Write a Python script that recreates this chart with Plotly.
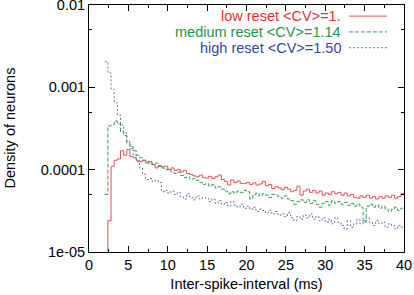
import numpy as np
import plotly.graph_objects as go

bin_start = 2.0
bin_width = 0.4

low_reset = [1e-7, 2.4e-5, 1.1e-4, 1.3e-4, 1.35e-4, 1.7e-4, 1.5e-4, 1.75e-4, 1.45e-4, 1.4e-4,
             1.3e-4, 1.25e-4, 1.3e-4, 1.2e-4, 1.25e-4, 1.15e-4, 1.05e-4, 1.12e-4, 1.08e-4, 1.1e-4,
             1.0e-4, 1.05e-4, 9.8e-5, 1.0e-4, 9.4e-5, 9.8e-5, 9.0e-5, 8.7e-5, 8.4e-5, 8.2e-5,
             8.6e-5, 8.0e-5, 7.9e-5, 8.3e-5, 7.8e-5, 8.2e-5, 8.6e-5, 7.6e-5, 7.2e-5, 6.5e-5,
             7.5e-5, 7.0e-5, 7.3e-5, 6.8e-5, 6.8e-5, 7.0e-5, 6.6e-5, 6.9e-5, 6.5e-5, 6.7e-5,
             7.2e-5, 6.4e-5, 6.6e-5, 5.9e-5, 6.2e-5, 6.0e-5, 5.7e-5, 6.1e-5, 5.8e-5, 5.4e-5,
             5.6e-5, 6.3e-5, 4.9e-5, 5.5e-5, 5.8e-5, 5.3e-5, 5.6e-5, 5.2e-5, 5.5e-5, 4.9e-5,
             5.2e-5, 5.0e-5, 5.4e-5, 5.1e-5, 5.3e-5, 4.9e-5, 5.2e-5, 4.8e-5, 5.0e-5, 4.6e-5,
             4.5e-5, 4.8e-5, 4.6e-5, 4.9e-5, 4.5e-5, 4.7e-5, 4.4e-5, 4.7e-5, 4.5e-5, 4.8e-5,
             4.6e-5, 4.9e-5, 4.5e-5, 4.7e-5, 5.1e-5]

medium_reset = [5e-5, 3.4e-4, 3.5e-4, 3.9e-4, 3.6e-4, 2.9e-4, 2.6e-4, 2.1e-4, 1.9e-4, 1.7e-4,
                1.5e-4, 1.4e-4, 1.3e-4, 1.25e-4, 1.2e-4, 1.15e-4, 1.2e-4, 1.1e-4, 1.05e-4, 1.0e-4,
                1.02e-4, 9.4e-5, 9.0e-5, 9.3e-5, 8.5e-5, 8.0e-5, 8.2e-5, 7.6e-5, 7.8e-5, 7.4e-5,
                7.0e-5, 6.6e-5, 6.8e-5, 6.3e-5, 6.6e-5, 6.0e-5, 6.2e-5, 5.8e-5, 5.5e-5, 5.1e-5,
                5.4e-5, 5.2e-5, 5.5e-5, 5.3e-5, 5.6e-5, 5.4e-5, 4.4e-5, 5.0e-5, 5.2e-5, 4.8e-5,
                5.1e-5, 4.9e-5, 4.6e-5, 5.0e-5, 4.9e-5, 4.7e-5, 4.5e-5, 4.8e-5, 4.4e-5, 4.2e-5,
                3.8e-5, 4.1e-5, 4.3e-5, 4.0e-5, 4.3e-5, 3.9e-5, 4.2e-5, 3.8e-5, 3.5e-5, 3.9e-5,
                4.1e-5, 3.7e-5, 4.2e-5, 3.9e-5, 4.1e-5, 3.8e-5, 4.0e-5, 3.7e-5, 3.9e-5, 3.6e-5,
                3.8e-5, 3.5e-5, 2.3e-5, 3.6e-5, 3.8e-5, 3.5e-5, 3.7e-5, 3.4e-5, 3.6e-5, 3.3e-5,
                3.1e-5, 3.3e-5, 3.5e-5, 3.2e-5, 3.4e-5]

high_reset = [2.05e-3, 1.5e-3, 9.5e-4, 6.5e-4, 4.6e-4, 3.5e-4, 2.8e-4, 2.2e-4, 1.8e-4, 1.5e-4,
              1.25e-4, 1.05e-4, 8.8e-5, 7.6e-5, 7.8e-5, 7.2e-5, 7.4e-5, 7.0e-5, 5.4e-5, 5.6e-5,
              5.2e-5, 5.5e-5, 5.0e-5, 5.3e-5, 4.7e-5, 4.4e-5, 5.1e-5, 4.6e-5, 4.3e-5, 4.8e-5,
              4.4e-5, 4.6e-5, 4.5e-5, 4.1e-5, 4.4e-5, 3.9e-5, 4.2e-5, 3.8e-5, 4.0e-5, 3.6e-5,
              4.1e-5, 3.7e-5, 3.5e-5, 3.8e-5, 3.4e-5, 3.6e-5, 3.3e-5, 3.5e-5, 3.1e-5, 3.3e-5,
              3.2e-5, 3.0e-5, 3.2e-5, 2.9e-5, 3.1e-5, 2.8e-5, 2.9e-5, 2.7e-5, 3.0e-5, 2.6e-5,
              2.4e-5, 2.7e-5, 2.5e-5, 2.8e-5, 2.6e-5, 2.9e-5, 2.5e-5, 2.7e-5, 2.4e-5, 2.6e-5,
              2.3e-5, 2.5e-5, 2.2e-5, 2.6e-5, 2.3e-5, 2.1e-5, 1.9e-5, 2.4e-5, 2.0e-5, 2.2e-5,
              2.5e-5, 2.2e-5, 2.4e-5, 2.6e-5, 2.3e-5, 2.1e-5, 2.4e-5, 2.2e-5, 2.3e-5, 2.0e-5,
              2.2e-5, 2.1e-5, 1.9e-5, 2.1e-5, 2.0e-5]

series_names = ["low reset <CV>=1.", "medium reset <CV>=1.14", "high reset <CV>=1.50"]
text_colors = ["#d9303c", "#22964a", "#34489a"]
line_colors = ["#e0505a", "#3a9a55", "#6070a8"]
dashes = ["solid", "4px,2px", "2px,2px"]

x_ticks = [0, 5, 10, 15, 20, 25, 30, 35, 40]
y_ticks = [1e-2, 1e-3, 1e-4, 1e-5]
y_ticklabels = ["0.01", "0.001", "0.0001", "1e-05"]

FONT = "Liberation Sans, Arial, Helvetica, sans-serif"
FS = 14.5

fig = go.Figure()
for vals, name, col, dash in zip([low_reset, medium_reset, high_reset], series_names, line_colors, dashes):
    n = len(vals)
    edges = bin_start + bin_width * np.arange(n + 1)
    fig.add_trace(go.Scatter(
        x=edges, y=list(vals) + [vals[-1]], mode="lines", line_shape="hv",
        line=dict(color=col, width=1, dash=dash), name=name, showlegend=False,
    ))

# legend as right-aligned coloured text with line samples
leg_y = [0.955, 0.891, 0.827]
for name, tcol, lcol, dash, yy in zip(series_names, text_colors, line_colors, dashes, leg_y):
    fig.add_annotation(x=0.806, y=yy, xref="paper", yref="paper", text=name.replace("<", "&lt;"),
                       showarrow=False, xanchor="right", yanchor="middle",
                       font=dict(family=FONT, size=FS, color=tcol))
    fig.add_shape(type="line", xref="paper", yref="paper", x0=0.825, x1=0.946, y0=yy, y1=yy,
                  line=dict(color=lcol, width=1, dash=dash))

# y-axis title placed near the left edge, as in the reference
fig.add_annotation(x=-(89 - 9) / 315, y=0.5, xref="paper", yref="paper", text="Density of neurons",
                   textangle=-90, showarrow=False, xanchor="center", yanchor="middle",
                   font=dict(family=FONT, size=FS, color="black"))

fig.update_layout(
    width=414, height=295,
    margin=dict(l=89, r=10, t=5, b=43),
    paper_bgcolor="white", plot_bgcolor="white",
    font=dict(family=FONT, size=FS, color="black"),
    xaxis=dict(range=[0, 40], tickvals=x_ticks, ticks="inside", ticklen=6, tickcolor="black",
               showline=True, linecolor="black", linewidth=1, mirror="allticks", showgrid=False,
               zeroline=False, automargin=False, tickfont=dict(size=FS), ticklabeloverflow="allow",
               title=dict(text="Inter-spike-interval (ms)", standoff=6, font=dict(size=FS)),
               minor=dict(tickvals=[2.5 + 5 * i for i in range(8)], ticks="inside", ticklen=3,
                          tickcolor="black", showgrid=False)),
    yaxis=dict(type="log", range=[-5.0003, -1.9997], tickvals=y_ticks, ticktext=y_ticklabels,
               ticks="inside", ticklen=6, tickcolor="black", showline=True, linecolor="black",
               linewidth=1, mirror="allticks", showgrid=False, zeroline=False, automargin=False,
               tickfont=dict(size=FS), ticklabeloverflow="allow",
               minor=dict(tickvals=[5e-5, 5e-4, 5e-3], ticks="inside", ticklen=3,
                          tickcolor="black", showgrid=False)),
)

fig.write_html("out.html", config={"displayModeBar": False},
               post_script="document.body.style.margin='0';")
